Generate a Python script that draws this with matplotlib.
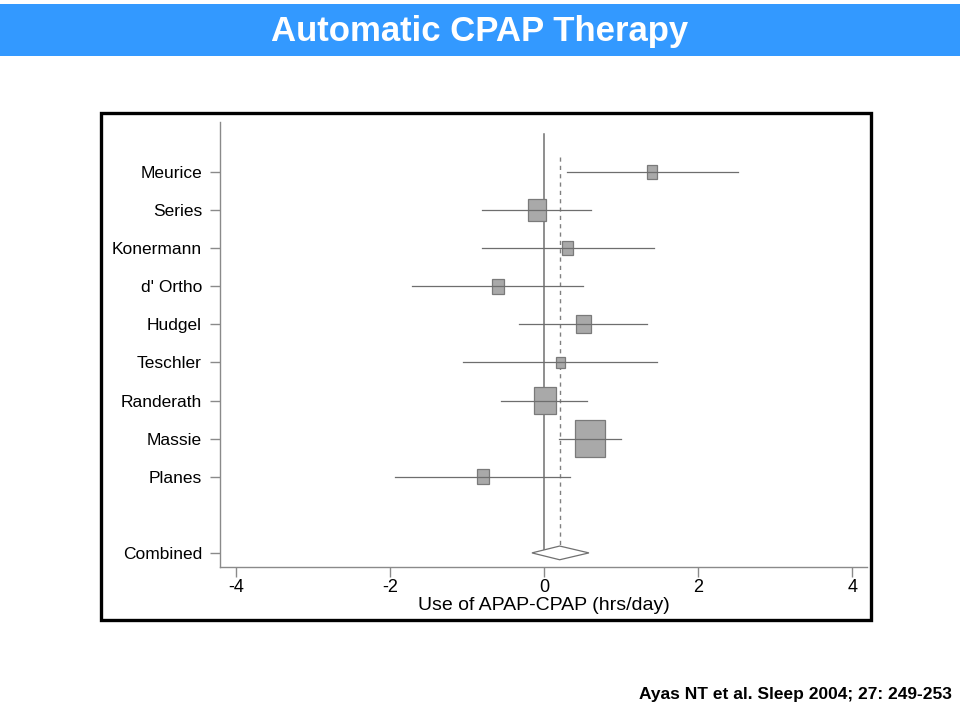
import numpy as np
import matplotlib
matplotlib.use("Agg")
import matplotlib.pyplot as plt
from matplotlib.patches import Rectangle, Polygon

plt.rcParams["font.family"] = ["Liberation Sans", "DejaVu Sans"]

# study estimates (APAP - CPAP use, hrs/day) with 95% CI and weight (%)
studies = ["Meurice", "Series", "Konermann", "d' Ortho", "Hudgel",
           "Teschler", "Randerath", "Massie", "Planes"]
effect = [1.40, -0.09, 0.30, -0.60, 0.51, 0.21, 0.01, 0.59, -0.80]
ci_low = [0.30, -0.81, -0.81, -1.72, -0.33, -1.05, -0.56, 0.19, -1.94]
ci_high = [2.52, 0.61, 1.43, 0.50, 1.33, 1.46, 0.56, 0.99, 0.34]
weight = [4.5, 12.7, 4.5, 5.6, 8.5, 3.4, 19.5, 36.0, 5.4]

combined_label = "Combined"
combined_effect = 0.20
combined_low = -0.16
combined_high = 0.58

x_ticks = [-4, -2, 0, 2, 4]

fig = plt.figure(figsize=(9.6, 7.06), dpi=100)

# blue title banner
fig.patches.append(Rectangle((0, 1 - 56 / 706), 1, 52 / 706, transform=fig.transFigure,
                             facecolor="#3399ff", edgecolor="none", zorder=0))
fig.text(0.5, 1 - 32 / 706, "Automatic CPAP Therapy", color="white", fontsize=25,
         fontweight="bold", ha="center", va="center")

# black frame around the chart
fig.patches.append(Rectangle((101 / 960, 1 - 620 / 706), 770 / 960, 507 / 706,
                             transform=fig.transFigure, facecolor="none",
                             edgecolor="black", linewidth=2.4, zorder=0))

ax = fig.add_axes([220 / 960, 1 - 567 / 706, 647 / 960, 445 / 706])
ax.set_facecolor("none")
ax.set_zorder(2)

ypos = np.arange(1, len(studies) + 1)
y_comb = len(studies) + 2

# vertical reference lines
ax.plot([0, 0], [0.0, y_comb + 0.05], color="#707070", lw=1.1, zorder=1)
ax.plot([combined_effect, combined_effect], [0.6, y_comb - 0.18], color="#808080",
        lw=1.0, ls=(0, (3, 3)), zorder=1)

# weighted squares and CI lines
px_x = 77.0
px_y = 38.2
for y, e, lo, hi, w in zip(ypos, effect, ci_low, ci_high, weight):
    side = 5.05 * np.sqrt(w)
    wdt = side / px_x
    hgt = 1.25 * side / px_y
    ax.add_patch(Rectangle((e - wdt / 2, y - hgt / 2), wdt, hgt, facecolor="#a9a9a9",
                           edgecolor="#7a7a7a", linewidth=0.9, zorder=2))
    ax.plot([lo, hi], [y, y], color="#6e6e6e", lw=0.9, zorder=3)

# pooled diamond
dh = 0.18
ax.add_patch(Polygon([(combined_low, y_comb), (combined_effect, y_comb - dh),
                      (combined_high, y_comb), (combined_effect, y_comb + dh)],
                     closed=True, facecolor="white", edgecolor="#707070",
                     linewidth=0.9, zorder=2))

ax.set_xlim(-4.21, 4.19)
ax.set_ylim(y_comb + 0.37, -0.31)

ax.set_yticks(list(ypos) + [y_comb])
ax.set_yticklabels(studies + [combined_label], fontsize=12.5)
ax.set_xticks(x_ticks)
ax.set_xticklabels([str(t) for t in x_ticks], fontsize=13)
ax.set_xlabel("Use of APAP-CPAP (hrs/day)", fontsize=14, labelpad=0)

for side in ["top", "right"]:
    ax.spines[side].set_visible(False)
for side in ["left", "bottom"]:
    ax.spines[side].set_color("#8a8a8a")
    ax.spines[side].set_linewidth(1.0)
ax.tick_params(axis="both", color="#8a8a8a", length=7, width=1.0)
ax.tick_params(axis="y", pad=6)
ax.tick_params(axis="x", pad=2)

fig.text(952 / 960, 1 - 694 / 706, "Ayas NT et al. Sleep 2004; 27: 249-253",
         fontsize=12.5, fontweight="bold", ha="right", va="center")

fig.savefig("out.png", dpi=100)
